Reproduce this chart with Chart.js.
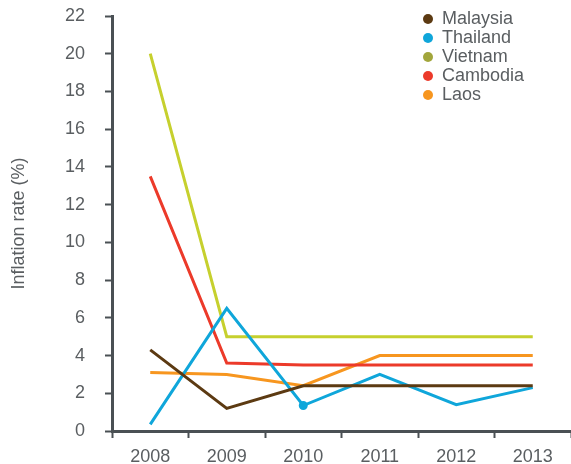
<!DOCTYPE html>
<html lang="en">
    <head>
        <meta charset="utf-8" />
        <script src="https://cdn.jsdelivr.net/npm/chart.js@4.4.1/dist/chart.umd.min.js"></script>
        <title>Inflation rate</title>
        <style>
            html, body { margin: 0; padding: 0; background: #fff; }
            #wrap { width: 571px; height: 464px; }
        </style>
    </head>
    <body>
        <div id="wrap"><canvas id="grafico"></canvas></div>
        <script>
            // years on the x axis
            const years = ["2008", "2009", "2010", "2011", "2012", "2013"];
            // inflation rate (%) per country
            const malaysia = [4.3, 1.2, 2.4, 2.4, 2.4, 2.4];
            const thailand = [0.35, 6.5, 1.35, 3.0, 1.4, 2.3];
            const vietnam = [20.0, 5.0, 5.0, 5.0, 5.0, 5.0];
            const cambodia = [13.5, 3.6, 3.5, 3.5, 3.5, 3.5];
            const laos = [3.1, 3.0, 2.4, 4.0, 4.0, 4.0];
            const countries = ["Malaysia", "Thailand", "Vietnam", "Cambodia", "Laos"];
            const yTicks = [0, 2, 4, 6, 8, 10, 12, 14, 16, 18, 20, 22];

            const lineColors = ["#5c3a12", "#0fa6da", "#c6d02e", "#ec3a2a", "#f7961f"];
            const dotColors = ["#5c3a12", "#0fa6da", "#a2a63c", "#ec3a2a", "#f7961f"];
            const axisColor = "#4a5054";
            const textColor = "#5a5e61";
            const font = "'Liberation Sans', Arial, sans-serif";

            const series = [malaysia, thailand, vietnam, cambodia, laos];

            // legend in the top right corner, drawn by hand
            const legendDots = {
                id: "legendDots",
                afterDraw(chart) {
                    const ctx = chart.ctx;
                    ctx.save();
                    ctx.font = "18px " + font;
                    ctx.textBaseline = "middle";
                    chart.data.datasets.forEach((d, i) => {
                        const y = 19 + i * 19;
                        ctx.fillStyle = dotColors[i];
                        ctx.beginPath();
                        ctx.arc(428, y, 5, 0, Math.PI * 2);
                        ctx.fill();
                        ctx.fillStyle = textColor;
                        ctx.fillText(d.label, 442, y);
                    });
                    ctx.restore();
                }
            };

            new Chart(document.getElementById("grafico"), {
                type: "line",
                data: {
                    labels: years,
                    datasets: countries.map((c, i) => ({
                        label: c,
                        data: series[i],
                        borderColor: lineColors[i],
                        backgroundColor: lineColors[i],
                        borderWidth: 3,
                        tension: 0,
                        pointRadius: c === "Thailand" ? [0, 0, 3, 0, 0, 0] : 0,
                        pointHoverRadius: 0
                    }))
                },
                options: {
                    responsive: true,
                    maintainAspectRatio: false,
                    animation: false,
                    layout: { padding: { top: 16, right: -3, left: 0, bottom: 0 } },
                    plugins: {
                        legend: { display: false },
                        tooltip: { enabled: false }
                    },
                    scales: {
                        x: {
                            offset: true,
                            border: { color: axisColor, width: 3 },
                            grid: {
                                offset: true,
                                drawOnChartArea: false,
                                drawTicks: true,
                                tickLength: 7,
                                tickWidth: 2,
                                tickColor: axisColor
                            },
                            ticks: { color: textColor, font: { size: 18, family: font }, padding: 8, maxRotation: 0 },
                            afterFit(s) { s.height = 33; }
                        },
                        y: {
                            min: 0,
                            max: 22,
                            afterBuildTicks(s) { s.ticks = yTicks.map(v => ({ value: v })); },
                            border: { color: axisColor, width: 3 },
                            grid: {
                                drawOnChartArea: false,
                                drawTicks: true,
                                tickLength: 7,
                                tickWidth: 2,
                                tickColor: axisColor
                            },
                            ticks: { color: textColor, font: { size: 18, family: font }, padding: 20 },
                            title: {
                                display: true,
                                text: "Inflation rate (%)",
                                color: textColor,
                                font: { size: 18, family: font },
                                padding: { top: 8, bottom: 20 }
                            },
                            afterFit(s) {
                                s.width = 112;
                                s.paddingTop = 0;
                                s.paddingBottom = 0;
                            }
                        }
                    }
                },
                plugins: [legendDots]
            });
        </script>
    </body>
</html>
